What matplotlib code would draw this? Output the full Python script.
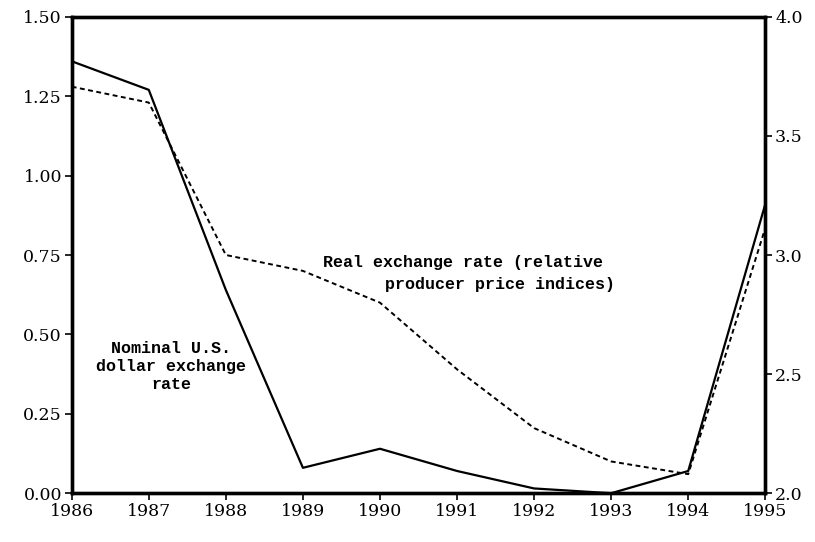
import numpy as np
import matplotlib
matplotlib.use("Agg")
import matplotlib.pyplot as plt

# values (left-axis units)
years = [1986, 1987, 1988, 1989, 1990, 1991, 1992, 1993, 1994, 1995]
nominal = [1.36, 1.27, 0.64, 0.08, 0.14, 0.07, 0.015, 0.0, 0.07, 0.91]
real = [1.28, 1.23, 0.75, 0.70, 0.60, 0.39, 0.205, 0.10, 0.06, 0.835]

left_ticks = [0.0, 0.25, 0.50, 0.75, 1.00, 1.25, 1.50]
left_labels = ["0.00", "0.25", "0.50", "0.75", "1.00", "1.25", "1.50"]
right_ticks = [2.0, 2.5, 3.0, 3.5, 4.0]
right_labels = ["2.0", "2.5", "3.0", "3.5", "4.0"]

plt.rcParams['font.family'] = ['DejaVu Serif']

fig = plt.figure(figsize=(8.15, 5.42), dpi=100)
ax = fig.add_axes([0.088, 0.090, 0.851, 0.879])

ax.plot(years, nominal, color='black', lw=1.6, ls='-')
ax.plot(years, real, color='black', lw=1.4, ls=(0, (2.5, 1.8)))

ax.set_xlim(1986, 1995)
ax.set_ylim(0, 1.5)
ax.set_xticks(years)
ax.set_xticklabels([str(y) for y in years], fontsize=12.5)
ax.set_yticks(left_ticks)
ax.set_yticklabels(left_labels, fontsize=12.5)
ax.tick_params(direction='out', length=5, width=1.2, pad=2)

ax2 = ax.twinx()
ax2.set_ylim(2.0, 4.0)
ax2.set_yticks(right_ticks)
ax2.set_yticklabels(right_labels, fontsize=12.5)
ax2.tick_params(direction='out', length=5, width=1.2, pad=2)

for a in (ax, ax2):
    for s in a.spines.values():
        s.set_linewidth(2.4)

ax.text(1989.26, 0.725, "Real exchange rate (relative", fontsize=12,
        family='Liberation Mono', fontweight='bold', va='center', ha='left')
ax.text(1990.06, 0.658, "producer price indices)", fontsize=12,
        family='Liberation Mono', fontweight='bold', va='center', ha='left')
ax.text(1987.29, 0.40, "Nominal U.S.\ndollar exchange\nrate", fontsize=12,
        family='Liberation Mono', fontweight='bold', va='center', ha='center',
        linespacing=1.25)

fig.savefig("out.png", dpi=100)
